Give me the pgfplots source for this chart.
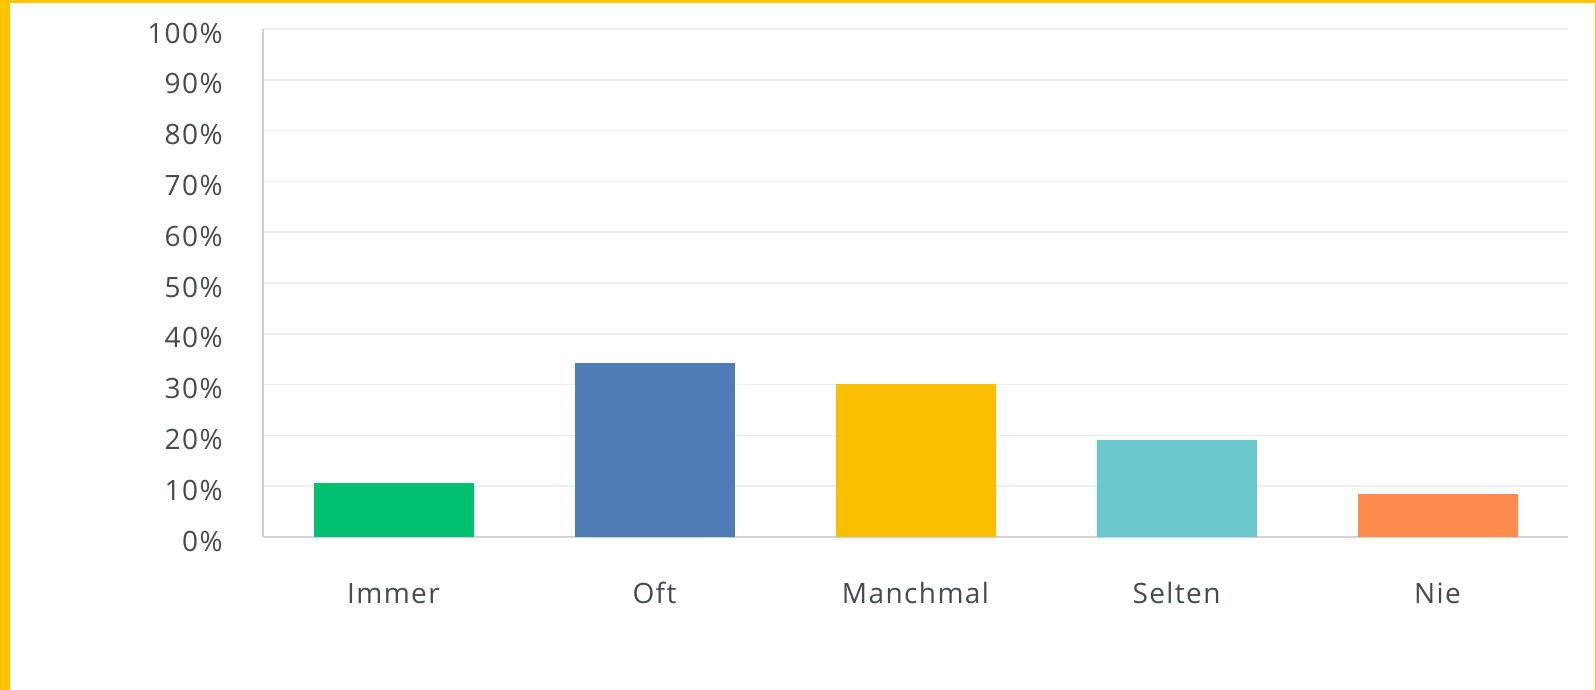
\documentclass[border=0pt]{standalone}
\usepackage{pgfplots}
\pgfplotsset{compat=1.18}
\usepackage{fontspec}
\setmainfont{Open Sans}[LetterSpace=5]
\definecolor{cGreen}{HTML}{00BF6F}
\definecolor{cBlue}{HTML}{507CB6}
\definecolor{cYellow}{HTML}{F9BE00}
\definecolor{cTeal}{HTML}{6BC8CD}
\definecolor{cOrange}{HTML}{FF8B4F}
\definecolor{cFrame}{HTML}{FFC400}
\definecolor{cGrid}{HTML}{EDEEEE}
\definecolor{cAxis}{HTML}{D0D2D3}
\definecolor{cText}{HTML}{444B53}
\begin{document}
\begin{tikzpicture}
\useasboundingbox (0pt,0pt) rectangle (798pt,345pt);
\fill[white] (0pt,0pt) rectangle (798pt,345pt);
\fill[cFrame] (0pt,0pt) rectangle (5pt,345pt);
\fill[cFrame] (0pt,343.5pt) rectangle (798pt,345pt);
\fill[cFrame] (797.25pt,0pt) rectangle (798pt,345pt);
\begin{axis}[
  at={(131.5pt,76.5pt)}, anchor=south west,
  scale only axis, width=652.5pt, height=254pt,
  xmin=-0.5, xmax=4.5, ymin=0, ymax=100,
  axis lines*=left,
  axis line style={cAxis, line width=0.9pt},
  x axis line style={-}, y axis line style={-},
  ytick={0,10,...,100},
  yticklabel={\pgfmathprintnumber{\tick}\%},
  /pgf/number format/assume math mode=true,
  xtick={0,1,2,3,4},
  xticklabels={Immer,Oft,Manchmal,Selten,Nie},
  major tick length=0pt,
  ymajorgrids, grid style={cGrid, line width=0.8pt},
  tick label style={font=\fontsize{14}{16}\selectfont, text=cText, inner sep=0pt},
  yticklabel style={anchor=east, xshift=-20pt, yshift=-2pt},
  xticklabel style={anchor=base, yshift=-33.5pt},
  ybar, bar width=80pt, bar shift=0pt,
  every axis plot/.append style={draw=none},
]
\addplot[fill=cGreen] coordinates {(0,10.6)};
\addplot[fill=cBlue] coordinates {(1,34.2)};
\addplot[fill=cYellow] coordinates {(2,30.1)};
\addplot[fill=cTeal] coordinates {(3,19.0)};
\addplot[fill=cOrange] coordinates {(4,8.5)};
\end{axis}
\end{tikzpicture}
\end{document}
